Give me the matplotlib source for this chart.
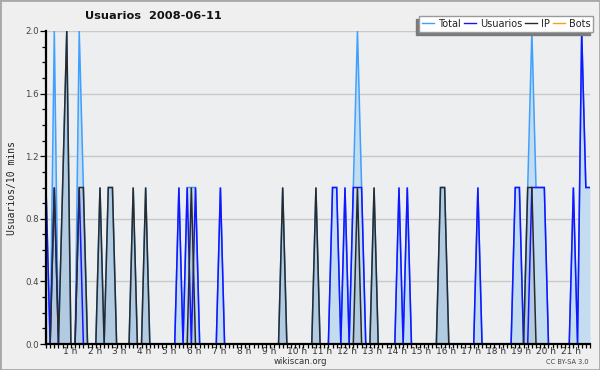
"""Usuarios 2008-06-11 — wikiscan 風の 10 分刻みグラフを out.png に描画。"""
import matplotlib
matplotlib.use("Agg")
import matplotlib.pyplot as plt
from matplotlib.lines import Line2D
from matplotlib.patches import Rectangle
from matplotlib.ticker import MultipleLocator, FixedLocator

# 10 分刻みスロット、先頭 0:20（1 行 = 2 時間 = 12 スロット）
START_MIN = 20
STEP_MIN = 10

total = [
    1, 0, 2, 0, 1, 2, 0, 0, 2, 1, 0, 0,
    0, 1, 0, 1, 1, 0, 0, 0, 0, 1, 0, 0,
    1, 0, 0, 0, 0, 0, 0, 0, 1, 0, 1, 1,
    1, 0, 0, 0, 0, 0, 1, 0, 0, 0, 0, 0,
    0, 0, 0, 0, 0, 0, 0, 0, 0, 1, 0, 0,
    0, 0, 0, 0, 0, 1, 0, 0, 0, 1, 1, 0,
    1, 0, 1, 2, 1, 0, 0, 1, 0, 0, 0, 0,
    0, 1, 0, 1, 0, 0, 0, 0, 0, 0, 0, 1,
    1, 0, 0, 0, 0, 0, 0, 0, 1, 0, 0, 0,
    0, 0, 0, 0, 0, 1, 1, 0, 1, 2, 1, 1,
    1, 0, 0, 0, 0, 0, 0, 1, 0, 2, 1, 1,
]
usuarios = [
    1, 0, 1, 0, 0, 0, 0, 0, 1, 0, 0, 0,
    0, 0, 0, 0, 0, 0, 0, 0, 0, 0, 0, 0,
    0, 0, 0, 0, 0, 0, 0, 0, 1, 0, 1, 0,
    1, 0, 0, 0, 0, 0, 1, 0, 0, 0, 0, 0,
    0, 0, 0, 0, 0, 0, 0, 0, 0, 0, 0, 0,
    0, 0, 0, 0, 0, 0, 0, 0, 0, 1, 1, 0,
    1, 0, 1, 1, 1, 0, 0, 0, 0, 0, 0, 0,
    0, 1, 0, 1, 0, 0, 0, 0, 0, 0, 0, 0,
    0, 0, 0, 0, 0, 0, 0, 0, 1, 0, 0, 0,
    0, 0, 0, 0, 0, 1, 1, 0, 0, 1, 1, 1,
    1, 0, 0, 0, 0, 0, 0, 1, 0, 2, 1, 1,
]
ip = [
    0, 0, 1, 0, 1, 2, 0, 0, 1, 1, 0, 0,
    0, 1, 0, 1, 1, 0, 0, 0, 0, 1, 0, 0,
    1, 0, 0, 0, 0, 0, 0, 0, 0, 0, 0, 1,
    0, 0, 0, 0, 0, 0, 0, 0, 0, 0, 0, 0,
    0, 0, 0, 0, 0, 0, 0, 0, 0, 1, 0, 0,
    0, 0, 0, 0, 0, 1, 0, 0, 0, 0, 0, 0,
    0, 0, 0, 1, 0, 0, 0, 1, 0, 0, 0, 0,
    0, 0, 0, 0, 0, 0, 0, 0, 0, 0, 0, 1,
    1, 0, 0, 0, 0, 0, 0, 0, 0, 0, 0, 0,
    0, 0, 0, 0, 0, 0, 0, 0, 1, 1, 0, 0,
    0, 0, 0, 0, 0, 0, 0, 0, 0, 0, 0, 0,
]
bots = [
    0, 0, 0, 0, 0, 0, 0, 0, 0, 0, 0, 0,
    0, 0, 0, 0, 0, 0, 0, 0, 0, 0, 0, 0,
    0, 0, 0, 0, 0, 0, 0, 0, 0, 0, 0, 0,
    0, 0, 0, 0, 0, 0, 0, 0, 0, 0, 0, 0,
    0, 0, 0, 0, 0, 0, 0, 0, 0, 0, 0, 0,
    0, 0, 0, 0, 0, 0, 0, 0, 0, 0, 0, 0,
    0, 0, 0, 0, 0, 0, 0, 0, 0, 0, 0, 0,
    0, 0, 0, 0, 0, 0, 0, 0, 0, 0, 0, 0,
    0, 0, 0, 0, 0, 0, 0, 0, 0, 0, 0, 0,
    0, 0, 0, 0, 0, 0, 0, 0, 0, 0, 0, 0,
    0, 0, 0, 0, 0, 0, 0, 0, 0, 0, 0, 0,
]
hour_ticks = list(range(1, 22))
hour_labels = [f"{h} h" for h in hour_ticks]
series_names = ["Total", "Usuarios", "IP", "Bots"]
series_colors = ["#3fa0ff", "#1414ff", "#2a2a2a", "#ff9a1a"]


def main():
    x = [(START_MIN + i * STEP_MIN) / 60 for i in range(len(total))]

    fig = plt.figure(figsize=(6.0, 3.7), dpi=100, facecolor="#efefef")
    ax = fig.add_axes([46 / 600, 1 - 344 / 370, 544 / 600, 313 / 370])
    ax.set_facecolor("#eceef0")

    # 塗り（Total の下を薄い青、IP 部分は少し濃く）
    ax.fill_between(x, 0, total, color="#c4dcf0", lw=0, zorder=1)
    ax.fill_between(x, 0, ip, color="#3a5470", alpha=0.12, lw=0, zorder=1.1)

    data = [total, usuarios, ip, bots]
    for vals, c, z in zip(data, series_colors, [2.0, 2.1, 2.2, 1.9]):
        ax.plot(x, vals, color=c, lw=1.1, zorder=z, solid_joinstyle="miter")

    ax.set_xlim(x[0], x[-1])
    ax.set_ylim(0, 2.0)

    # グリッド（横線のみ）
    ax.yaxis.set_major_locator(MultipleLocator(0.4))
    ax.yaxis.set_minor_locator(MultipleLocator(0.1))
    ax.grid(axis="y", color="#c9c9c9", lw=1.0, zorder=0.5)
    ax.set_axisbelow(True)

    ax.xaxis.set_major_locator(FixedLocator(hour_ticks))
    ax.xaxis.set_minor_locator(MultipleLocator(STEP_MIN / 60))
    ax.set_xticklabels(hour_labels)
    for lbl in ax.get_xticklabels():
        lbl.set_ha("left")
    ax.set_yticklabels([f"{v:.1f}" for v in ax.get_yticks()])

    ax.tick_params(axis="x", which="both", direction="out", length=3,
                   width=0.9, color="black", labelsize=6.5, labelcolor="#333333", pad=-0.5)
    ax.tick_params(axis="y", which="major", direction="out", length=4,
                   width=0.9, color="black", labelsize=6.2, labelcolor="#444444", pad=1)
    ax.tick_params(axis="y", which="minor", direction="out", length=3,
                   width=0.9, color="black")

    for s in ("top", "right"):
        ax.spines[s].set_visible(False)
    for s in ("left", "bottom"):
        ax.spines[s].set_color("black")
        ax.spines[s].set_linewidth(1.6)
        ax.spines[s].set_zorder(3)

    ax.set_ylabel("Usuarios/10 mins", family="DejaVu Sans Mono", fontsize=7,
                  color="#222222", labelpad=6)

    # 凡例（横並び・左下に影）
    handles = [Line2D([], [], color=c, lw=1.0) for c in series_colors]
    leg = ax.legend(handles, series_names, loc="upper right", ncol=4,
                    bbox_to_anchor=(1.006, 1.048), fontsize=7, frameon=True,
                    fancybox=False, handlelength=1.25, handletextpad=0.4,
                    columnspacing=0.3, borderpad=0.3, borderaxespad=0,
                    shadow={"ox": -2.3, "oy": -2.3, "color": "#7a7a7a", "alpha": 1})
    leg.get_frame().set_edgecolor("#9a9a9a")
    leg.get_frame().set_linewidth(1.0)
    leg.get_frame().set_facecolor("white")
    for t in leg.get_texts():
        t.set_color("#222222")

    fig.text(85 / 600, 1 - 16 / 370, "Usuarios  2008-06-11", fontsize=8.2,
             fontweight="bold", color="#111111", ha="left", va="center")
    fig.text(300 / 600, 1 - 362 / 370, "wikiscan.org", fontsize=6.2,
             color="#333333", ha="center", va="center")
    fig.text(589 / 600, 1 - 362 / 370, "CC BY-SA 3.0", fontsize=4.8,
             color="#444444", ha="right", va="center")

    # 外枠
    fig.patches.append(Rectangle((0, 0), 1, 1, transform=fig.transFigure,
                                 fill=False, ec="#a8a8a8", lw=2.0))

    fig.savefig("out.png", dpi=100, facecolor=fig.get_facecolor())
    plt.close(fig)


if __name__ == "__main__":
    main()
